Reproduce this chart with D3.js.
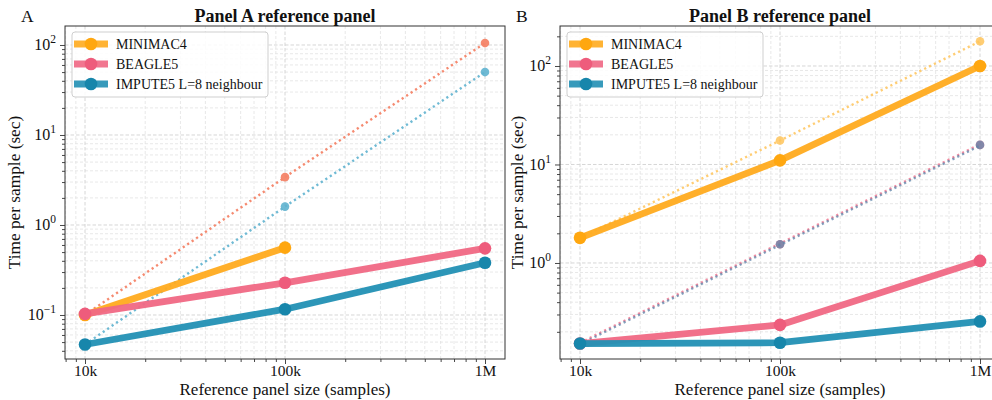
<!DOCTYPE html>
<html>
<head>
<meta charset="utf-8">
<script src="https://cdn.jsdelivr.net/npm/d3@7"></script>
<style>
  html, body { margin: 0; padding: 0; background: #fff; }
  svg { display: block; font-family: "Liberation Serif", "DejaVu Serif", serif; }
</style>
</head>
<body>
<svg id="chart" width="992" height="400"></svg>
<script>
// Reference panel sizes (samples)
const sizes = [1e4, 1e5, 1e6];
const xTickValues = [1e4, 1e5, 1e6];
const xTickLabels = ["10k", "100k", "1M"];

const seriesNames = ["MINIMAC4", "BEAGLE5", "IMPUTE5 L=8 neighbour"];

// Panel A: measured time per sample (sec)
const panelAMinimac = [0.100, 0.56];
const panelABeagle = [0.103, 0.228, 0.55];
const panelAImpute = [0.047, 0.116, 0.38];
// Panel A: linear-scaling projections
const panelAProjBeagle = [0.100, 3.4, 105];
const panelAProjImpute = [0.047, 1.6, 50];

// Panel B: measured time per sample (sec)
const panelBMinimac = [1.8, 11, 100];
const panelBBeagle = [0.152, 0.235, 1.05];
const panelBImpute = [0.152, 0.155, 0.255];
// Panel B: linear-scaling projections
const panelBProjMinimac = [1.8, 17.5, 178];
const panelBProjBeagle = [0.152, 1.55, 15.8];
const panelBProjImpute = [0.152, 1.55, 15.8];

const colors = {
  orange: "#ffab1f", orangeDark: "#ffa710",
  pink: "#f06884", pinkDark: "#ee5c7c",
  blue: "#2290b4", blueDark: "#1786ab",
  salmon: "#f48468", lightBlue: "#5fb3cf",
  lightOrange: "#ffc45a", steel: "#5c84aa"
};

const FONT_LABEL = 17, FONT_TICK = 15.5, FONT_TITLE = 18, FONT_LEGEND = 14, FONT_LETTER = 17.5;

const svg = d3.select("#chart");

function drawPanel(cfg) {
  const { left, right, top, bottom, yDomain, letter, title, yTicks } = cfg;
  const x = d3.scaleLog().domain([Math.pow(10, 3.9), Math.pow(10, 6.1)]).range([left, right]);
  const y = d3.scaleLog().domain(yDomain).range([bottom, top]);
  const g = svg.append("g");

  const clipId = "clip" + letter;
  svg.append("clipPath").attr("id", clipId)
    .append("rect").attr("x", left).attr("y", top).attr("width", right - left).attr("height", bottom - top);

  // minor tick positions (2..9 × 10^k)
  const xMinor = [], yMinor = [];
  for (let e = 3; e <= 6; e++) for (let m = 2; m <= 9; m++) {
    const v = m * Math.pow(10, e);
    if (v > x.domain()[0] && v < x.domain()[1]) xMinor.push(v);
  }
  for (let e = -2; e <= 2; e++) for (let m = 2; m <= 9; m++) {
    const v = m * Math.pow(10, e);
    if (v > y.domain()[0] && v < y.domain()[1]) yMinor.push(v);
  }

  // grid
  const grid = g.append("g").attr("clip-path", `url(#${clipId})`);
  grid.selectAll(".gxm").data(xMinor).join("line")
    .attr("x1", d => x(d)).attr("x2", d => x(d)).attr("y1", top).attr("y2", bottom)
    .attr("stroke", "#e2e2e2").attr("stroke-width", 0.8).attr("stroke-dasharray", "3,2");
  grid.selectAll(".gym").data(yMinor).join("line")
    .attr("y1", d => y(d)).attr("y2", d => y(d)).attr("x1", left).attr("x2", right)
    .attr("stroke", "#e2e2e2").attr("stroke-width", 0.8).attr("stroke-dasharray", "3,2");
  grid.selectAll(".gx").data(xTickValues).join("line")
    .attr("x1", d => x(d)).attr("x2", d => x(d)).attr("y1", top).attr("y2", bottom)
    .attr("stroke", "#d6d6d6").attr("stroke-width", 1).attr("stroke-dasharray", "3.5,2");
  grid.selectAll(".gy").data(yTicks).join("line")
    .attr("y1", d => y(d)).attr("y2", d => y(d)).attr("x1", left).attr("x2", right)
    .attr("stroke", "#d6d6d6").attr("stroke-width", 1).attr("stroke-dasharray", "3.5,2");

  const plot = g.append("g").attr("clip-path", `url(#${clipId})`);
  const line = d3.line().x((d, i) => x(sizes[i])).y(d => y(d));

  function dotted(vals, color, opacity, dy) {
    plot.append("path").datum(vals)
      .attr("d", line).attr("fill", "none").attr("stroke", color)
      .attr("stroke-width", 2.4).attr("stroke-dasharray", "2.2,3.2")
      .attr("opacity", opacity).attr("transform", `translate(0,${dy || 0})`);
    plot.selectAll(null).data(vals.slice(1)).join("circle")
      .attr("cx", (d, i) => x(sizes[i + 1])).attr("cy", d => y(d)).attr("r", 4.3)
      .attr("fill", color).attr("opacity", opacity);
  }
  function solid(vals, color, dark) {
    plot.append("path").datum(vals)
      .attr("d", line).attr("fill", "none").attr("stroke", color)
      .attr("stroke-width", 6.8).attr("stroke-linejoin", "round").attr("opacity", 0.95);
    plot.selectAll(null).data(vals).join("circle")
      .attr("cx", (d, i) => x(sizes[i])).attr("cy", d => y(d)).attr("r", 6.3)
      .attr("fill", dark);
  }
  cfg.draw(dotted, solid);

  // spines
  g.append("rect").attr("x", left).attr("y", top).attr("width", right - left).attr("height", bottom - top)
    .attr("fill", "none").attr("stroke", "#333").attr("stroke-width", 1);

  // axes
  const xAxis = d3.axisBottom(x).tickValues(xTickValues).tickFormat((d, i) => xTickLabels[i])
    .tickSize(5).tickPadding(1);
  const xa = g.append("g").attr("transform", `translate(0,${bottom})`).call(xAxis);
  const xm = g.append("g").attr("transform", `translate(0,${bottom})`)
    .call(d3.axisBottom(x).tickValues(xMinor).tickFormat("").tickSize(3));
  const yAxis = d3.axisLeft(y).tickValues(yTicks).tickFormat("").tickSize(5);
  const ya = g.append("g").attr("transform", `translate(${left},0)`).call(yAxis);
  const ym = g.append("g").attr("transform", `translate(${left},0)`)
    .call(d3.axisLeft(y).tickValues(yMinor).tickFormat("").tickSize(3));
  [xa, xm, ya, ym].forEach(a => {
    a.attr("font-family", null).attr("font-size", null);
    a.select(".domain").remove();
    a.selectAll(".tick line").attr("stroke", "#333").attr("stroke-width", 0.9);
  });
  xa.selectAll(".tick text").attr("font-size", FONT_TICK).attr("fill", "#111");

  // y tick labels as 10^n
  yTicks.forEach(v => {
    const t = g.append("text").attr("x", left - 9).attr("y", y(v) + 5.5)
      .attr("text-anchor", "end").attr("font-size", FONT_TICK + 0.5).attr("fill", "#111");
    t.append("tspan").text("10");
    t.append("tspan").attr("dy", -7).attr("font-size", 11.5)
      .text(String(Math.round(Math.log10(v))).replace("-", "\u2212"));
  });

  // labels
  g.append("text").attr("x", (left + right) / 2).attr("y", 394.5).attr("text-anchor", "middle")
    .attr("font-size", FONT_LABEL).attr("fill", "#111").text("Reference panel size (samples)");
  g.append("text").attr("transform", `translate(${cfg.ylabelX},${(top + bottom) / 2}) rotate(-90)`)
    .attr("text-anchor", "middle").attr("font-size", FONT_LABEL + 0.3).attr("fill", "#111").text("Time per sample (sec)");
  g.append("text").attr("x", (left + right) / 2).attr("y", 21.5).attr("text-anchor", "middle")
    .attr("font-size", FONT_TITLE).attr("font-weight", "bold").attr("fill", "#111").text(title);
  g.append("text").attr("x", cfg.letterX).attr("y", 22).attr("font-size", FONT_LETTER).attr("fill", "#111").text(letter);

  // legend
  const lg = g.append("g").attr("transform", `translate(${left + 7},${top + 6})`);
  lg.append("rect").attr("x", 0).attr("y", 0).attr("width", 196).attr("height", 65).attr("rx", 3)
    .attr("fill", "#fff").attr("fill-opacity", 0.85).attr("stroke", "#cfcfcf");
  const legendColors = [[colors.orange, colors.orangeDark], [colors.pink, colors.pinkDark], [colors.blue, colors.blueDark]];
  seriesNames.forEach((name, i) => {
    const yy = 12 + i * 20;
    lg.append("line").attr("x1", 2).attr("x2", 36).attr("y1", yy).attr("y2", yy)
      .attr("stroke", legendColors[i][0]).attr("stroke-width", 7).attr("opacity", 0.9);
    lg.append("circle").attr("cx", 19).attr("cy", yy).attr("r", 6.3).attr("fill", legendColors[i][1]);
    lg.append("text").attr("x", 44).attr("y", yy + 5).attr("font-size", FONT_LEGEND).attr("fill", "#111").text(name);
  });
}

drawPanel({
  left: 65, right: 505, top: 26, bottom: 359,
  yDomain: [Math.pow(10, -1.489), Math.pow(10, 2.211)],
  yTicks: [0.1, 1, 10, 100],
  letter: "A", letterX: 21, ylabelX: 20,
  title: "Panel A reference panel",
  draw(dotted, solid) {
    dotted(panelAProjBeagle, colors.salmon, 0.95);
    dotted(panelAProjImpute, colors.lightBlue, 0.9);
    solid(panelAMinimac, colors.orange, colors.orangeDark);
    solid(panelABeagle, colors.pink, colors.pinkDark);
    solid(panelAImpute, colors.blue, colors.blueDark);
  }
});

drawPanel({
  left: 560, right: 1000, top: 26, bottom: 359,
  yDomain: [Math.pow(10, -0.975), Math.pow(10, 2.406)],
  yTicks: [1, 10, 100],
  letter: "B", letterX: 516, ylabelX: 523,
  title: "Panel B reference panel",
  draw(dotted, solid) {
    dotted(panelBProjMinimac, colors.lightOrange, 0.85);
    dotted(panelBProjBeagle, colors.pink, 0.75, -0.7);
    dotted(panelBProjImpute, colors.steel, 0.75, 0.7);
    solid(panelBMinimac, colors.orange, colors.orangeDark);
    solid(panelBBeagle, colors.pink, colors.pinkDark);
    solid(panelBImpute, colors.blue, colors.blueDark);
  }
});
</script>
</body>
</html>
